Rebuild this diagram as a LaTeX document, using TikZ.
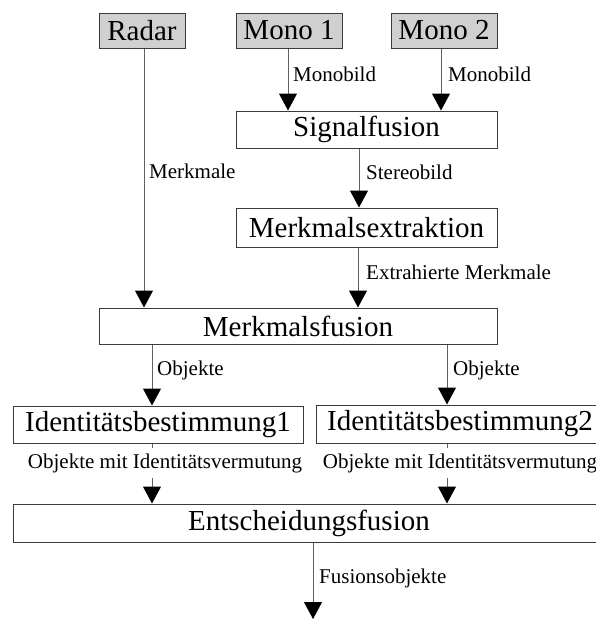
\documentclass[tikz,border=0pt]{standalone}
\usepackage{fontspec}
\setmainfont{Liberation Serif}
\usetikzlibrary{arrows.meta}
\definecolor{boxline}{HTML}{3A3A3A}
\definecolor{flowline}{HTML}{606060}
\definecolor{srcgray}{HTML}{D0D0D0}
\begin{document}
\begin{tikzpicture}[x=1pt,y=-1pt,
  box/.style={draw=boxline, line width=1pt, inner sep=0pt, fill=white,
              font=\fontsize{29}{34}\selectfont},
  src/.style={box, fill=srcgray},
  flow/.style={draw=flowline, line width=1pt,
               -{Triangle[length=17pt,width=18pt,color=black]}},
  lbl/.style={font=\fontsize{21}{25}\selectfont, inner sep=0pt, anchor=west},
  idlbl/.style={lbl, anchor=center, fill=white, minimum height=30pt, inner xsep=2pt},
]
\useasboundingbox (0,0) rectangle (596,619);
\clip (0,0) rectangle (596,619);

% sources
\node[src, minimum width=86pt,  minimum height=35pt] (radar) at (142,30.5) {Radar};
\node[src, minimum width=106pt, minimum height=35pt] (mono1) at (289,30.5) {Mono 1};
\node[src, minimum width=106pt, minimum height=35pt] (mono2) at (444,30.5) {Mono 2};

% processing stages
\node[box, minimum width=261pt, minimum height=37pt] (sig) at (366.5,129.5) {Signalfusion};
\node[box, minimum width=261pt, minimum height=39pt] (mex) at (366.5,227.5) {Merkmalsextraktion};
\node[box, minimum width=398pt, minimum height=36pt] (mfu) at (298,326) {Merkmalsfusion};
\node[box, minimum width=290pt, minimum height=37pt] (id1) at (158,424.5) {Identitätsbestimmung1};
\node[box, minimum width=288pt, minimum height=38pt] (id2) at (460,424) {Identitätsbestimmung2};
\node[box, minimum width=592pt, minimum height=38pt] (ent) at (309,523) {Entscheidungsfusion};
\coordinate (out) at (313,619);

% data flow
\draw[flow] ([xshift=2pt]radar.south) -- ([xshift=2pt]radar.south |- mfu.north);
\draw[flow] ([xshift=-1pt]mono1.south) -- ([xshift=-1pt]mono1.south |- sig.north);
\draw[flow] ([xshift=-3pt]mono2.south) -- ([xshift=-3pt]mono2.south |- sig.north);
\draw[flow] ([xshift=-7.5pt]sig.south) -- ([xshift=-7.5pt]sig.south |- mex.north);
\draw[flow] ([xshift=-8.5pt]mex.south) -- ([xshift=-8.5pt]mex.south |- mfu.north);
\draw[flow] ([xshift=-146pt]mfu.south) -- ([xshift=-146pt]mfu.south |- id1.north);
\draw[flow] ([xshift=149pt]mfu.south) -- ([xshift=149pt]mfu.south |- id2.north);
\draw[flow] ([xshift=-6pt]id1.south) -- ([xshift=-6pt]id1.south |- ent.north);
\draw[flow] ([xshift=-13pt]id2.south) -- ([xshift=-13pt]id2.south |- ent.north);
\draw[flow] ([xshift=4pt]ent.south) -- (out);

% connector labels
\node[lbl] (lmono1) at (293,74) {Monobild};
\node[lbl] (lmono2) at (448,74) {Monobild};
\node[lbl] (lmerk) at (149,171) {Merkmale};
\node[lbl] (lstereo) at (366,172) {Stereobild};
\node[lbl] (lextr) at (366,272) {Extrahierte Merkmale};
\node[lbl] (lobj1) at (157,370) {Objekte};
\node[lbl] (lobj2) at (453,370) {Objekte};
\node[idlbl] (lid1) at (165,463) {Objekte mit Identitätsvermutung};
\node[idlbl] (lid2) at (460,463) {Objekte mit Identitätsvermutung};
\node[lbl] (lfus) at (319,578) {Fusionsobjekte};
\end{tikzpicture}
\end{document}
